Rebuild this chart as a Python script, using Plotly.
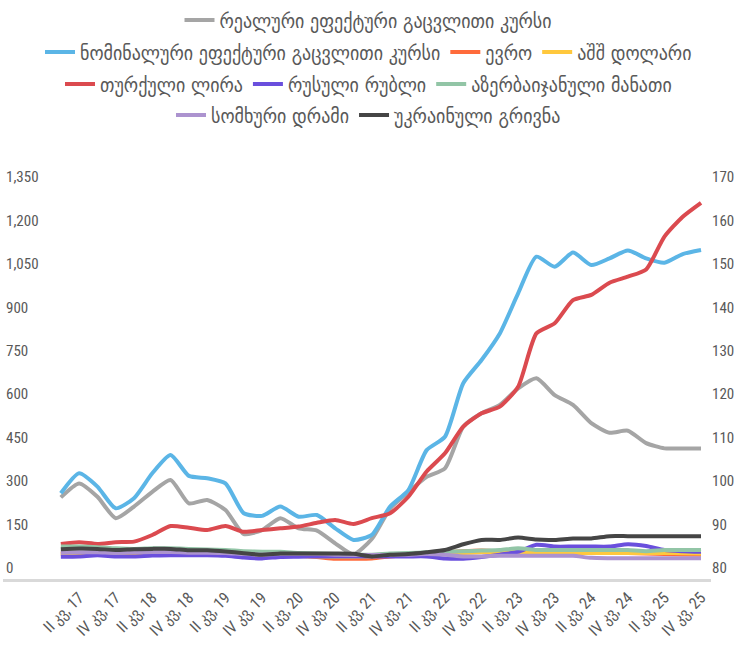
import plotly.graph_objects as go

# Quarters I 2017 .. IV 2025
years = ["17", "18", "19", "20", "21", "22", "23", "24", "25"]
roman = ["I", "II", "III", "IV"]
quarters = [f"{r} კვ, {y}" for y in years for r in roman]
tick_labels = [q for q in quarters if q.startswith("II ") or q.startswith("IV ")]

real_eff = [244, 292, 246, 172, 212, 263, 304, 223, 235, 200, 117, 131, 172, 137, 129, 85,
            47, 100, 205, 262, 315, 344, 488, 534, 563, 620, 655, 597, 563, 500, 467, 474,
            431, 413, 413, 413]
nominal_eff = [258, 327, 281, 206, 241, 327, 390, 318, 310, 292, 189, 180, 212, 177, 183, 137,
               97, 114, 212, 269, 407, 453, 638, 718, 810, 948, 1075, 1040, 1089, 1046, 1069, 1096,
               1069, 1054, 1084, 1098]
euro = [50, 52, 50, 48, 48, 48, 50, 50, 50, 48, 44, 44, 44, 42, 38, 32,
        32, 33, 40, 46, 50, 54, 58, 60, 58, 58, 56, 56, 56, 54, 52, 52,
        50, 48, 47, 46]
usd = [48, 49, 48, 47, 47, 47, 48, 48, 48, 47, 43, 42, 42, 41, 40, 38,
       38, 40, 44, 46, 48, 50, 52, 54, 55, 56, 54, 52, 52, 52, 52, 52,
       52, 52, 51, 50]
try_lira = [83, 89, 83, 89, 91, 114, 145, 139, 131, 145, 125, 131, 137, 143, 156, 166,
            152, 172, 189, 246, 333, 396, 488, 534, 557, 626, 810, 845, 925, 943, 985, 1006,
            1031, 1144, 1213, 1261]
rub = [39, 40, 44, 40, 40, 43, 44, 44, 44, 42, 36, 33, 38, 39, 40, 40,
       40, 40, 40, 40, 40, 33, 32, 38, 46, 56, 80, 74, 74, 74, 74, 82,
       76, 62, 58, 56]
azn = [74, 74, 72, 68, 66, 68, 68, 66, 64, 62, 58, 56, 56, 52, 50, 48,
       46, 46, 50, 52, 54, 56, 58, 60, 62, 68, 62, 62, 62, 62, 62, 62,
       58, 62, 62, 62]
amd = [53, 54, 54, 52, 54, 55, 55, 53, 53, 52, 48, 46, 48, 48, 48, 46,
       45, 45, 45, 46, 48, 46, 40, 40, 42, 42, 42, 42, 42, 35, 34, 34,
       34, 34, 34, 34]
uah = [65, 67, 66, 62, 65, 66, 66, 61, 61, 57, 51, 46, 50, 50, 50, 50,
       49, 40, 46, 48, 54, 62, 82, 97, 97, 105, 98, 97, 102, 102, 110, 110,
       110, 110, 110, 110]

left_ticks = [0, 150, 300, 450, 600, 750, 900, 1050, 1200, 1350]
right_ticks = [80, 90, 100, 110, 120, 130, 140, 150, 160, 170]

series = [
    ("რეალური ეფექტური გაცვლითი კურსი", real_eff, "#A5A5A5", "legend2"),
    ("ნომინალური ეფექტური გაცვლითი კურსი", nominal_eff, "#5BB5E6", "legend3"),
    ("ევრო", euro, "#FF6B3B", "legend3"),
    ("აშშ დოლარი", usd, "#FFC83D", "legend3"),
    ("თურქული ლირა", try_lira, "#DB4A4F", "legend4"),
    ("რუსული რუბლი", rub, "#6A4FDD", "legend4"),
    ("აზერბაიჯანული მანათი", azn, "#92C5A6", "legend4"),
    ("სომხური დრამი", amd, "#AC93CF", "legend5"),
    ("უკრაინული გრივნა", uah, "#454545", "legend5"),
]

FONT = "Liberation Sans Narrow, Roboto Condensed, DejaVu Sans Condensed, sans-serif"
TXT = "#595959"

fig = go.Figure()
for name, vals, color, lg in series:
    fig.add_trace(go.Scatter(
        x=quarters, y=vals, name=name, mode="lines",
        line=dict(color=color, width=4, shape="spline", smoothing=0.6),
        legend=lg, hoverinfo="skip",
    ))
fig.add_trace(go.Scatter(x=[], y=[], yaxis="y2", showlegend=False, hoverinfo="skip"))

legend_common = dict(orientation="h", xanchor="center", x=0.5, xref="container",
                     yref="container", yanchor="middle",
                     font=dict(family="DejaVu Sans Condensed, DejaVu Sans", size=20, color=TXT),
                     bgcolor="rgba(0,0,0,0)", itemwidth=30, tracegroupgap=0)

rows_y = [20, 52, 84, 115]
H = 648
fig.update_layout(
    width=737, height=648,
    margin=dict(l=3, r=24, t=177, b=69),
    paper_bgcolor="white", plot_bgcolor="white",
    font=dict(family=FONT, color=TXT, size=14),
    showlegend=True,
    legend=dict(visible=False),
    legend2=dict(**legend_common, y=1 - rows_y[0] / H),
    legend3=dict(**legend_common, y=1 - rows_y[1] / H),
    legend4=dict(**legend_common, y=1 - rows_y[2] / H),
    legend5=dict(**legend_common, y=1 - rows_y[3] / H),
    xaxis=dict(type="category", range=[-3.162, 35.545], tickvals=tick_labels, ticktext=tick_labels,
               tickangle=-45, showgrid=False, zeroline=False, showline=True,
               linecolor="#D9D9D9", linewidth=3, ticks="",
               tickfont=dict(family=FONT, size=16, color=TXT)),
    yaxis=dict(range=[-38, 1350], tickvals=left_ticks, tickformat=",", showgrid=False,
               zeroline=False, showline=False, ticks="", ticklabelposition="inside",
               ticklabeloverflow="allow",
               tickfont=dict(family=FONT, size=15, color=TXT)),
    yaxis2=dict(range=[77.47, 170], tickvals=right_ticks, overlaying="y", side="right",
                anchor="x", showgrid=False, zeroline=False, showline=False, ticks="",
                ticklabelposition="outside",
                tickfont=dict(family=FONT, size=15, color=TXT)),
)

fig.write_html("out.html", config={"displayModeBar": False},
               post_script="document.body.style.margin='0';")
